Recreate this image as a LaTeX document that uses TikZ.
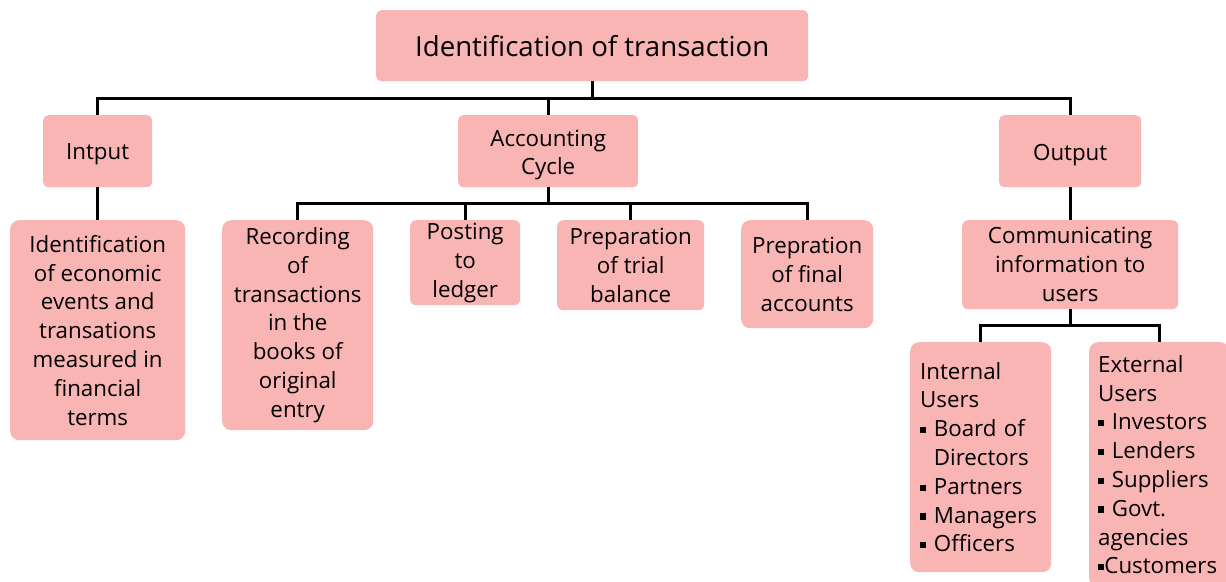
\documentclass[tikz,border=0pt]{standalone}
\usepackage{fontspec}
\setmainfont{Open Sans}
\definecolor{boxpink}{HTML}{F9B4B4}
\newcommand{\bul}{\raisebox{0.16em}{\rule{0.28em}{0.28em}}}
\newcommand{\lowr}[1]{\raisebox{-3.5pt}[\height][\depth]{#1}}
\begin{document}
\begin{tikzpicture}[x=1pt,y=-1pt,
  box/.style={fill=boxpink, rounded corners=9pt, align=center, inner sep=0pt, anchor=north west, font=\fontsize{22.3}{28.8}\selectfont},
  hbox/.style={box, rounded corners=5pt},
  conn/.style={draw=black, line width=2.6pt}]
\useasboundingbox (0,0) rectangle (1226,581);
\node[hbox, minimum width=432pt, minimum height=71pt, font=\fontsize{27.6}{32}\selectfont] (top) at (376,10) {Identification of transaction};
\node[hbox, minimum width=109pt, minimum height=72pt] (inp) at (43,115) {\lowr{Intput}};
\node[hbox, minimum width=180pt, minimum height=72pt] (acc) at (458,115) {\lowr{\begin{tabular}{@{}c@{}}Accounting\\Cycle\end{tabular}}};
\node[hbox, minimum width=142pt, minimum height=72pt] (out) at (999,115) {\lowr{Output}};
\node[box, minimum width=175pt, minimum height=220pt] (iden) at (10,220) {Identification\\of economic\\events and\\transations\\measured in\\financial\\terms};
\node[box, minimum width=151pt, minimum height=210pt] (rec) at (222,220) {Recording\\of\\transactions\\in the\\books of\\original\\entry};
\node[box, minimum width=110pt, minimum height=85pt, rounded corners=6pt] (post) at (410,220) {Posting\\to\\ledger};
\node[box, minimum width=147pt, minimum height=90pt, rounded corners=6pt] (trial) at (557,220) {Preparation\\of trial\\balance};
\node[box, minimum width=132pt, minimum height=108pt] (fin) at (741,220) {Prepration\\of final\\accounts};
\node[box, minimum width=216pt, minimum height=89pt, rounded corners=6pt] (comm) at (962,220) {Communicating\\information to\\users};
\node[box, minimum width=141pt, minimum height=230pt, align=left, text width=121pt] (intu) at (910,342) {Internal\\Users\\\bul{} Board of\\\phantom{\bul{} }Directors\\\bul{} Partners\\\bul{} Managers\\\bul{} Officers};
\node[box, minimum width=140pt, minimum height=245pt, align=left, text width=122pt] (extu) at (1089,342) {External\\Users\\\bul{} Investors\\\bul{} Lenders\\\bul{} Suppliers\\\bul{} Govt.\\agencies\\\bul Customers};
% connectors
\draw[conn] (top.south) -- ++(0,17) coordinate (j1);
\draw[conn] (j1) -| (inp.north);
\draw[conn] (j1) -| (acc.north);
\draw[conn] (j1) -| (out.north);
\draw[conn] (inp.south) -- (iden.north);
\draw[conn] (acc.south) -- ++(0,16) coordinate (j2);
\draw[conn] (j2) -| (rec.north);
\draw[conn] (j2) -| (post.north);
\draw[conn] (j2) -| (trial.north);
\draw[conn] (j2) -| (fin.north);
\draw[conn] (out.south) -- (comm.north);
\draw[conn] (comm.south) -- ++(0,16) coordinate (j3);
\draw[conn] (j3) -| (intu.north);
\draw[conn] (j3) -| (extu.north);
\end{tikzpicture}
\end{document}
